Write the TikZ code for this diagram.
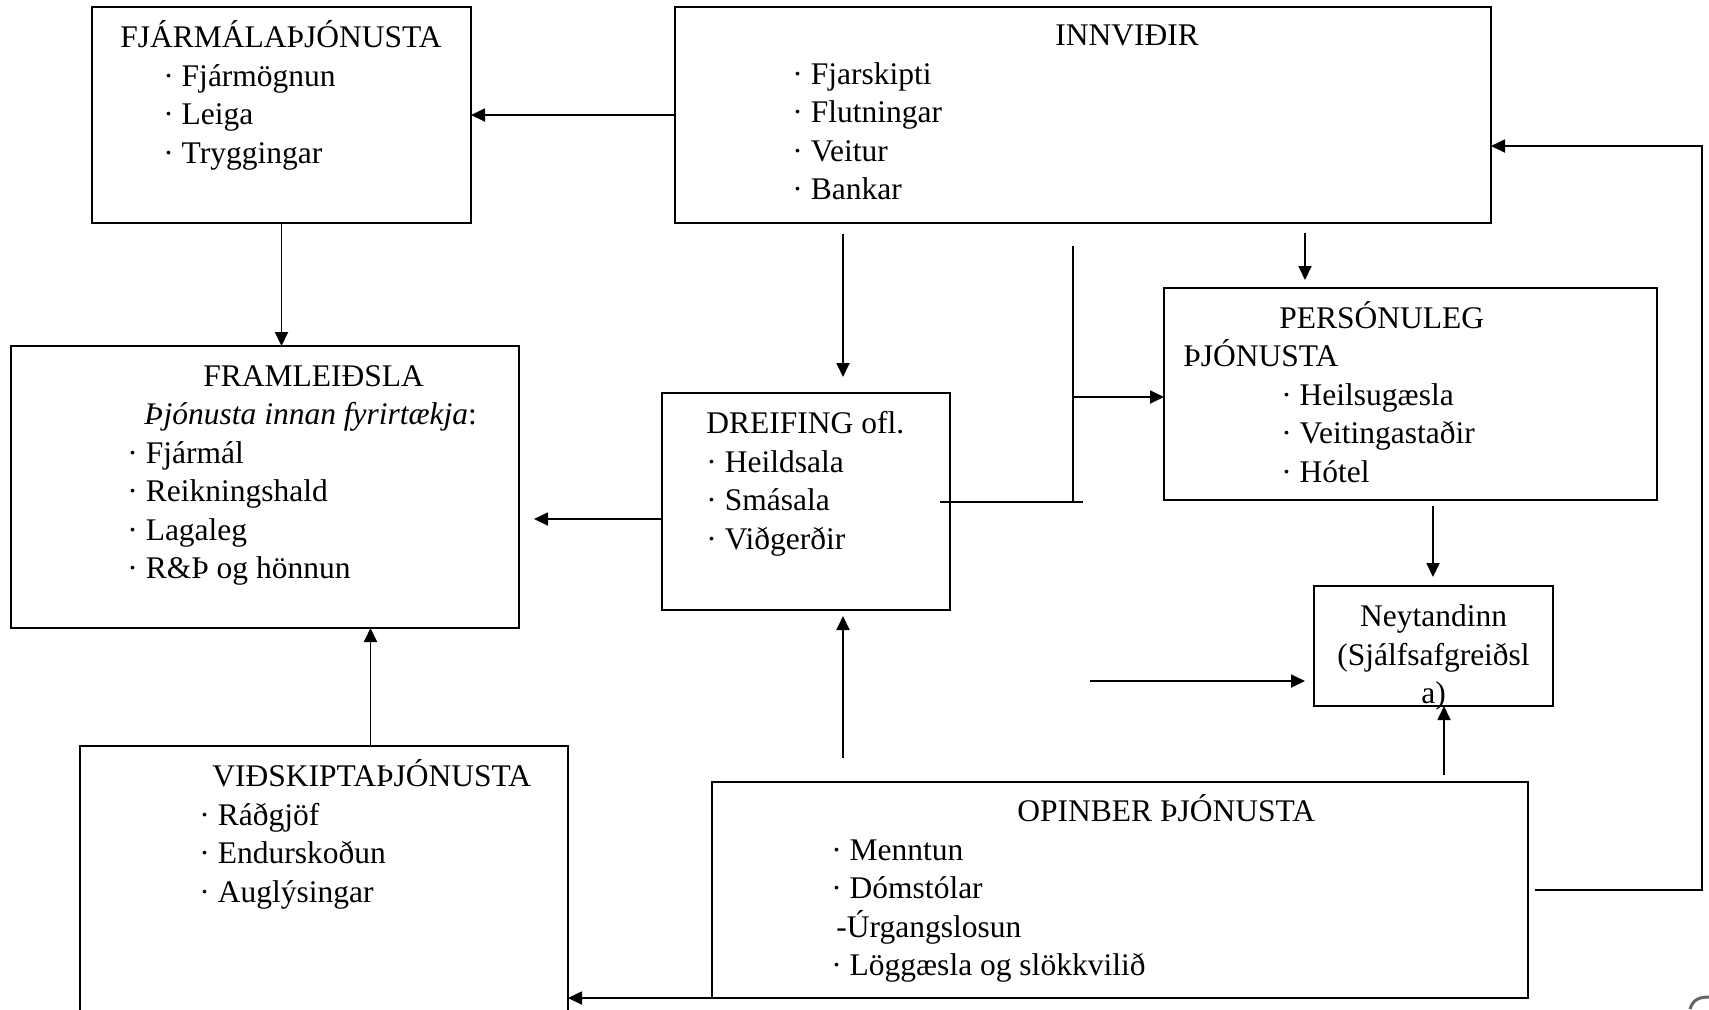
\documentclass[tikz,border=0pt]{standalone}
\usepackage{fontspec}
\setmainfont{Liberation Serif}
\usepackage{tikz}
\usetikzlibrary{arrows.meta}

\begin{document}
\begin{tikzpicture}[x=0.5pt,y=-0.5pt,
  box/.style={draw,line width=1pt,rectangle,inner sep=0pt,outer sep=0pt},
  txt/.style={inner sep=0pt,anchor=base west,align=left,font=\fontsize{15.75}{19.2}\selectfont},
  arr/.style={line width=0.9pt,-{Triangle[length=7pt,width=6.5pt]}},
  ln/.style={line width=0.9pt}]
\clip (0,0) rectangle (1709,1009);
\fill[white] (0,0) rectangle (1709,1009);

\node[box,minimum width=189.5pt,minimum height=108pt] (fin) at (281.5,115) {};
\node[box,minimum width=408pt,minimum height=108pt] (infra) at (1083,115) {};
\node[box,minimum width=254pt,minimum height=141pt] (prod) at (265,487) {};
\node[box,minimum width=144pt,minimum height=108.5pt] (dist) at (806,501.5) {};
\node[box,minimum width=246.5pt,minimum height=106pt] (pers) at (1410.5,394) {};
\node[box,minimum width=119.5pt,minimum height=60pt] (cons) at (1433.5,646) {};
\node[box,minimum width=244pt,minimum height=147pt] (biz) at (324,893) {};
\node[box,minimum width=408pt,minimum height=108pt] (pub) at (1120,890) {};

\node[txt] (fintxt) at (120,163) {FJÁRMÁLAÞJÓNUSTA\\
  \hspace*{21.5pt}· Fjármögnun\\
  \hspace*{21.5pt}· Leiga\\
  \hspace*{21.5pt}· Tryggingar};
\node[txt] (infratxt) at (792,199.5) {\hspace*{131.5pt}INNVIÐIR\\
  · Fjarskipti\\
  · Flutningar\\
  · Veitur\\
  · Bankar};
\node[txt] (prodtxt) at (127,578.5) {\hspace*{38pt}FRAMLEIÐSLA\\
  \hspace*{8.5pt}\textit{Þjónusta innan fyrirtækja}:\\
  · Fjármál\\
  · Reikningshald\\
  · Lagaleg\\
  · R\&Þ og hönnun};
\node[txt] (disttxt) at (706,549) {DREIFING ofl.\\
  · Heildsala\\
  · Smásala\\
  · Viðgerðir};
\node[txt] (perstxt) at (1183,482) {\hspace*{48pt}PERSÓNULEG\\
  ÞJÓNUSTA\\
  \hspace*{49pt}· Heilsugæsla\\
  \hspace*{49pt}· Veitingastaðir\\
  \hspace*{49pt}· Hótel};
\node[txt,anchor=base,align=center] (constxt) at (1433.5,703.5) {Neytandinn\\
  (Sjálfsafgreiðsl\\
  a)};
\node[txt] (biztxt) at (199,902) {\hspace*{6.5pt}VIÐSKIPTAÞJÓNUSTA\\
  · Ráðgjöf\\
  · Endurskoðun\\
  · Auglýsingar};
\node[txt] (pubtxt) at (831,975.5) {\hspace*{93pt}OPINBER ÞJÓNUSTA\\
  · Menntun\\
  · Dómstólar\\
  \hspace*{2.5pt}-Úrgangslosun\\
  · Löggæsla og slökkvilið};

\coordinate (c1) at (843,234);
\coordinate (c2) at (843,377);
\coordinate (v1) at (1073,246);
\coordinate (v2) at (1073,502);
\coordinate (h1) at (940,502);
\coordinate (h2) at (1083,502);
\coordinate (j1) at (1073,397);
\coordinate (e1) at (1305,233);
\coordinate (e2) at (1305,280);
\coordinate (f1) at (1433,506);
\coordinate (f2) at (1433,577);
\coordinate (g1) at (1090,681);
\coordinate (g2) at (1305,681);
\coordinate (p1) at (1444,775);
\coordinate (r1) at (1535,890);
\coordinate (r2) at (1702,890);
\coordinate (r3) at (1702,146);
\coordinate (d1) at (662,519);
\coordinate (d2) at (534,519);
\coordinate (l1) at (843,758);
\coordinate (l2) at (843,616);

\draw[arr] (infra.west) -- (fin.east);
\draw[arr] (fin.south) -- (fin.south |- prod.north);
\draw[arr] (c1) -- (c2);
\draw[ln] (v1) -- (v2);
\draw[ln] (h1) -- (h2);
\draw[arr] (j1) -- (j1 -| pers.west);
\draw[arr] (e1) -- (e2);
\draw[arr] (f1) -- (f2);
\draw[arr] (g1) -- (g2);
\draw[arr] (p1) -- (p1 |- cons.south);
\draw[arr] (r1) -- (r2) -- (r3) -- (r3 -| infra.east);
\draw[arr] (d1) -- (d2);
\draw[arr] (biz.north -| 370.5,0) -- (prod.south -| 370.5,0);
\draw[arr] (l1) -- (l2);
\draw[arr] (pub.south west) -- (pub.south west -| biz.east);

\draw[black!60,line width=1.5pt] (1690,1009) .. controls (1693,999) and (1700,997) .. (1709,997);
\end{tikzpicture}
\end{document}
